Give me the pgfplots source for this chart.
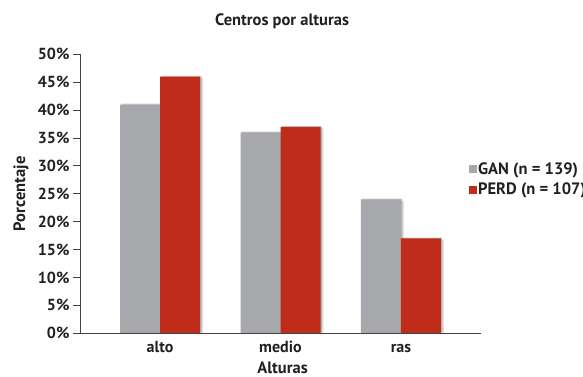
\documentclass[border=0pt]{standalone}
\usepackage{fontspec}
\setmainfont{PT Sans}
\usepackage{pgfplots}
\pgfplotsset{compat=1.18}

\definecolor{ganGray}{HTML}{A7A8AC}
\definecolor{perdRed}{HTML}{BF2C1A}
\definecolor{inkDark}{HTML}{231F20}

\begin{document}
\begin{tikzpicture}[x=1pt,y=1pt]
\useasboundingbox (0,0) rectangle (583,377);
\begin{axis}[
  at={(80pt,43.7pt)}, anchor=south west,
  scale only axis, width=401pt, height=279pt,
  ybar, bar width=40pt,
  xmin=-0.664, xmax=2.664,
  ymin=0, ymax=50,
  axis x line*=bottom, axis y line*=left,
  axis line style={inkDark!85, line width=0.9pt, -},
  axis on top,
  xtick={0,1,2},
  xticklabels={alto,medio,ras},
  xtick style={draw=none},
  xticklabel style={anchor=base, yshift=-12pt},
  ytick={0,5,...,50},
  yticklabel={\pgfmathprintnumber{\tick}\%},
  tick align=outside,
  major tick length=7pt,
  ytick style={inkDark!85, line width=0.9pt},
  /pgf/number format/assume math mode=true,
  every tick label/.append style={font=\fontsize{16}{18}\selectfont\bfseries, text=inkDark},
  title={Centros por alturas},
  title style={at={(axis description cs:0.504,1.081)}, anchor=base,
    font=\fontsize{16.5}{18}\selectfont\bfseries, text=inkDark},
  xlabel={Alturas},
  xlabel style={at={(axis description cs:0.505,-0.143)}, anchor=base,
    font=\fontsize{16.5}{18}\selectfont\bfseries, text=inkDark},
  ylabel={Porcentaje},
  ylabel style={at={(axis description cs:-0.147,0.5)}, anchor=center, rotate=0,
    font=\fontsize{16.5}{18}\selectfont\bfseries, text=inkDark},
  legend style={at={(axis description cs:0.9688,0.551)}, anchor=west,
    draw=none, fill=none, inner sep=0pt, row sep=4pt,
    font=\fontsize{16.5}{18}\selectfont\bfseries, text=inkDark,
    nodes={inner sep=1.5pt}},
  legend cell align=left,
  legend image code/.code={\fill[#1, draw=none] (0pt,-4pt) rectangle (8pt,4pt);},
]
% soft shadows behind the bars
\addplot[forget plot, bar shift=-20pt, draw=none, fill=black, opacity=0.12, xshift=3pt, yshift=-1.5pt]
  coordinates {(0,41) (1,36) (2,24)};
\addplot[forget plot, bar shift=-20pt, draw=none, fill=black, opacity=0.2, xshift=1.5pt, yshift=0.8pt]
  coordinates {(0,41) (1,36) (2,24)};
\addplot[forget plot, bar shift=20pt, draw=none, fill=black, opacity=0.12, xshift=3pt, yshift=-1.5pt]
  coordinates {(0,46) (1,37) (2,17)};
\addplot[forget plot, bar shift=20pt, draw=none, fill=black, opacity=0.2, xshift=1.5pt, yshift=0.8pt]
  coordinates {(0,46) (1,37) (2,17)};
% GAN and PERD bars
\addplot[bar shift=-20pt, draw=none, fill=ganGray]
  coordinates {(0,41) (1,36) (2,24)};
\addlegendentry{GAN (n = 139)}
\addplot[bar shift=20pt, draw=none, fill=perdRed]
  coordinates {(0,46) (1,37) (2,17)};
\addlegendentry{PERD (n = 107)}
\end{axis}
\end{tikzpicture}
\end{document}
